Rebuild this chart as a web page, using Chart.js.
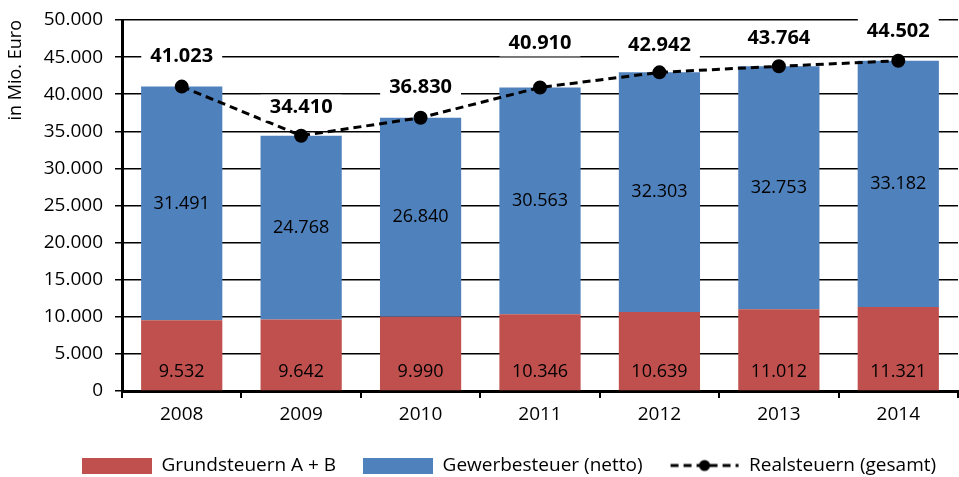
<!DOCTYPE html>
<html>
<head>
<meta charset="utf-8">
<script src="https://cdn.jsdelivr.net/npm/chart.js@4/dist/chart.umd.min.js"></script>
<style>
  html, body { margin: 0; padding: 0; background: #fff; overflow: hidden; }
  canvas { display: block; }
</style>
</head>
<body>
<canvas id="chart" width="959" height="477"></canvas>
<script>
// Realsteuern 2008-2014, in Mio. Euro
var years = ['2008', '2009', '2010', '2011', '2012', '2013', '2014'];
var grundsteuern = [9532, 9642, 9990, 10346, 10639, 11012, 11321];
var gewerbesteuer = [31491, 24768, 26840, 30563, 32303, 32753, 33182];
var realsteuern = [41023, 34410, 36830, 40910, 42942, 43764, 44502];
var yTicks = [0, 5000, 10000, 15000, 20000, 25000, 30000, 35000, 40000, 45000, 50000];
var labelLift = [30, 28, 30, 44, 27, 28, 29];

var RED = '#C0504D';
var BLUE = '#4F81BD';
var FONT = '"Open Sans", "Liberation Sans", sans-serif';

function fmt(v) {
    return String(v).replace(/\B(?=(\d{3})+(?!\d))/g, '.');
}

function swatch(color) {
    var c = document.createElement('canvas');
    c.width = 70; c.height = 16;
    var g = c.getContext('2d');
    g.fillStyle = color;
    g.fillRect(0, 0, 70, 16);
    return c;
}

function lineSwatch() {
    var c = document.createElement('canvas');
    c.width = 70; c.height = 16;
    var g = c.getContext('2d');
    g.strokeStyle = '#000';
    g.lineWidth = 3;
    g.setLineDash([8, 5]);
    g.beginPath();
    g.moveTo(1, 8); g.lineTo(69, 8);
    g.stroke();
    g.fillStyle = '#000';
    g.beginPath();
    g.arc(35, 8, 5.5, 0, Math.PI * 2);
    g.fill();
    return c;
}

var valueLabels = {
    id: 'valueLabels',
    afterLayout: function (chart) {
        // legend sits a bit right of centre in the original
        chart.legend.left += 30;
        chart.legend.right += 30;
    },
    afterDatasetsDraw: function (chart) {
        var ctx = chart.ctx;
        ctx.save();
        ctx.textAlign = 'center';
        ctx.textBaseline = 'middle';
        chart.data.datasets.forEach(function (ds, di) {
            var meta = chart.getDatasetMeta(di);
            meta.data.forEach(function (el, i) {
                var v = ds.data[i];
                if (ds.type === 'line') {
                    ctx.font = 'bold 20px ' + FONT;
                    var txt = fmt(v);
                    var w = ctx.measureText(txt).width + 18;
                    var y = el.y - labelLift[i];
                    ctx.fillStyle = '#fff';
                    ctx.fillRect(el.x - w / 2, y - 13, w, 26);
                    ctx.fillStyle = '#000';
                    ctx.fillText(txt, el.x, y);
                } else if (di === 0) {
                    ctx.font = '18px ' + FONT;
                    ctx.fillStyle = '#000';
                    ctx.fillText(fmt(v), el.x, el.base - 18);
                } else {
                    ctx.font = '18px ' + FONT;
                    ctx.fillStyle = '#000';
                    ctx.fillText(fmt(v), el.x, (el.y + el.base) / 2);
                }
            });
        });
        ctx.restore();
    }
};

var swatches = [swatch(RED), swatch(BLUE), lineSwatch()];

var ctx = document.getElementById('chart').getContext('2d');
var chart = new Chart(ctx, {
    type: 'bar',
    data: {
        labels: years,
        datasets: [
            {
                label: 'Grundsteuern A + B',
                data: grundsteuern,
                backgroundColor: RED,
                order: 1,
                categoryPercentage: 1,
                barPercentage: 0.68
            },
            {
                label: 'Gewerbesteuer (netto)',
                data: gewerbesteuer,
                backgroundColor: BLUE,
                order: 2,
                categoryPercentage: 1,
                barPercentage: 0.68
            },
            {
                type: 'line',
                label: 'Realsteuern (gesamt)',
                data: realsteuern,
                stack: 'total',
                borderColor: '#000',
                borderWidth: 3,
                borderDash: [8, 5],
                pointRadius: 5.5,
                pointBackgroundColor: '#000',
                pointBorderColor: '#000',
                fill: false,
                tension: 0,
                order: 0
            }
        ]
    },
    options: {
        responsive: false,
        animation: false,
        layout: { autoPadding: false, padding: { top: 20, right: 1, bottom: -8, left: 0 } },
        scales: {
            x: {
                stacked: true,
                offset: true,
                grid: { drawOnChartArea: false, drawTicks: true, tickLength: 7, offset: true, color: '#000', lineWidth: 2 },
                border: { color: '#000', width: 3 },
                ticks: { color: '#000', font: { family: FONT, size: 19 }, padding: 5 },
                afterFit: function (s) { s.height = 38; s.paddingLeft = 0; s.paddingRight = 0; }
            },
            y: {
                stacked: true,
                min: 0,
                max: 50000,
                afterBuildTicks: function (s) { s.ticks = yTicks.map(function (v) { return { value: v }; }); },
                grid: { color: '#000', lineWidth: 1.5, tickLength: 7 },
                border: { color: '#000', width: 3 },
                ticks: { color: '#000', font: { family: FONT, size: 19 }, padding: 12, callback: function (v) { return fmt(v); } },
                title: { display: true, text: 'in Mio. Euro', align: 'end', color: '#000', font: { family: FONT, size: 18 }, padding: { top: 5, bottom: 0 } },
                afterFit: function (s) { s.width = 122; s.paddingTop = 0; s.paddingBottom = 0; }
            }
        },
        plugins: {
            tooltip: { enabled: false },
            legend: {
                position: 'bottom',
                labels: {
                    color: '#000',
                    font: { family: FONT, size: 19 },
                    usePointStyle: true,
                    pointStyleWidth: 70,
                    padding: 27,
                    generateLabels: function (c) {
                        return c.data.datasets.map(function (ds, i) {
                            return { text: ds.label, pointStyle: swatches[i], datasetIndex: i, hidden: false, fontColor: '#000', lineWidth: 0 };
                        });
                    }
                }
            }
        }
    },
    plugins: [valueLabels]
});
</script>
</body>
</html>
